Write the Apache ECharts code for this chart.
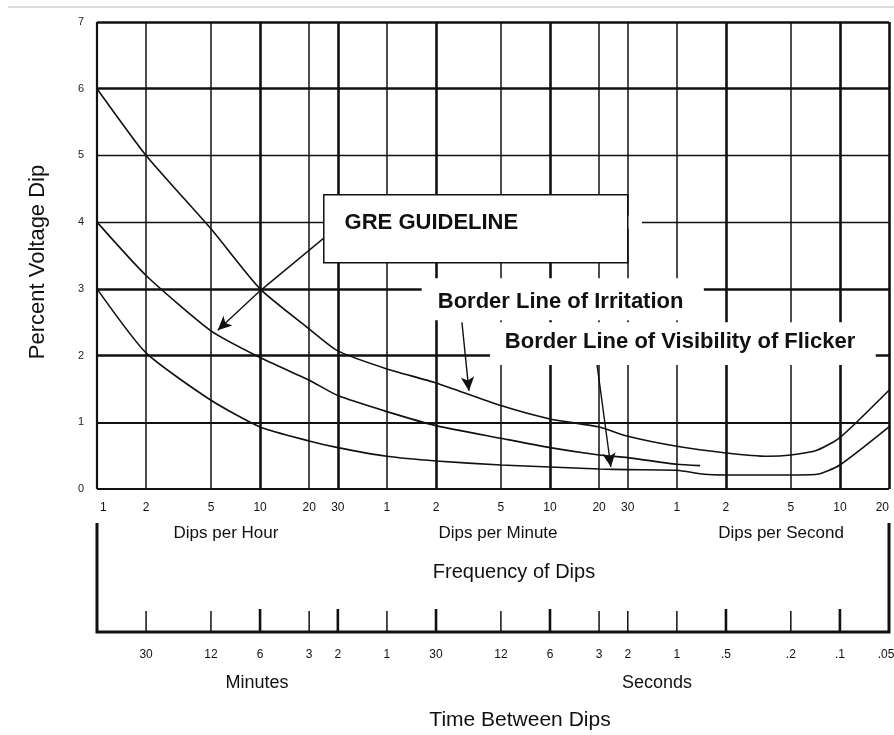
<!DOCTYPE html>
<html>
<head>
<meta charset="utf-8">
<script src="https://cdn.jsdelivr.net/npm/echarts@6/dist/echarts.min.js"></script>
<style>
html, body { margin: 0; padding: 0; background: #fff; }
#graph { width: 894px; height: 735px; }
</style>
</head>
<body>
<div id="graph"></div>
<script>
// frequency of dips, counted in dips per hour (1 per hour ... 20 per second)
var freqValues = [1, 2, 5, 10, 20, 30, 60, 120, 300, 600, 1200, 1800, 3600, 7200, 18000, 36000, 72000];
var freqLabels = ['1', '2', '5', '10', '20', '30', '1', '2', '5', '10', '20', '30', '1', '2', '5', '10', '20'];
var timeLabels = ['', '30', '12', '6', '3', '2', '1', '30', '12', '6', '3', '2', '1', '.5', '.2', '.1', '.05'];
var heavyFreq = [10, 30, 120, 600, 7200, 36000, 72000];
var pctTicks = [0, 1, 2, 3, 4, 5, 6, 7];
var heavyPct = [2, 3, 6, 7];

// Border Line of Irritation
var irritationFreq = [1, 2, 5, 10, 20, 30, 60, 120, 300, 600, 1200, 1800, 3600, 7200, 13000, 18000, 26000, 36000, 72000];
var irritationPct = [6.0, 5.0, 3.9, 3.0, 2.4, 2.07, 1.8, 1.59, 1.25, 1.05, 0.93, 0.79, 0.64, 0.54, 0.49, 0.51, 0.58, 0.77, 1.48];

// GRE guideline
var greFreq = [1, 2, 5, 10, 20, 30, 60, 120, 300, 600, 1200, 1800, 3600, 5000];
var grePct = [4.0, 3.2, 2.37, 1.97, 1.63, 1.4, 1.16, 0.95, 0.76, 0.62, 0.51, 0.47, 0.37, 0.35];

// Border Line of Visibility of Flicker
var visibilityFreq = [1, 2, 5, 10, 20, 30, 60, 120, 300, 600, 1200, 1800, 3600, 5300, 7200, 18000, 26000, 36000, 72000];
var visibilityPct = [3.0, 2.04, 1.33, 0.93, 0.72, 0.62, 0.49, 0.42, 0.36, 0.33, 0.30, 0.29, 0.28, 0.22, 0.21, 0.21, 0.22, 0.36, 0.93];

var FONT = '"Liberation Sans", Arial, sans-serif';

function zip(xs, ys) {
  return xs.map(function (x, i) { return [x, ys[i]]; });
}

var dom = document.getElementById('graph');
var myChart = echarts.init(dom, null, { renderer: 'canvas' });

var gridLines = [];
freqValues.forEach(function (v) {
  var w = heavyFreq.indexOf(v) >= 0 ? 2.6 : 1.5;
  if (v === 1) w = 2.2;
  gridLines.push({ xAxis: v, lineStyle: { width: w } });
});
pctTicks.forEach(function (v) {
  var w = heavyPct.indexOf(v) >= 0 ? 2.6 : 1.4;
  if (v === 1) w = 1.9;
  if (v === 0) w = 2.2;
  gridLines.push({ yAxis: v, lineStyle: { width: w } });
});

var curveStyle = { color: '#111', width: 1.6 };

option = {
  animation: false,
  backgroundColor: '#fff',
  grid: { left: 97, top: 22, width: 792, height: 467 },
  xAxis: {
    type: 'log',
    logBase: 10,
    min: 1,
    max: 72000,
    axisLine: { show: false },
    axisTick: { show: false },
    axisLabel: { show: false },
    splitLine: { show: false }
  },
  yAxis: {
    type: 'value',
    min: 0,
    max: 7,
    interval: 1,
    axisLine: { show: false },
    axisTick: { show: false },
    splitLine: { show: false },
    axisLabel: { margin: 13, fontSize: 11, color: '#222', fontFamily: FONT }
  },
  series: [
    {
      name: 'grid',
      type: 'line',
      data: [[1, 0]],
      symbol: 'none',
      lineStyle: { opacity: 0 },
      silent: true,
      z: 1,
      markLine: {
        silent: true,
        symbol: ['none', 'none'],
        label: { show: false },
        lineStyle: { color: '#111', type: 'solid' },
        data: gridLines
      }
    },
    {
      name: 'Border Line of Irritation',
      type: 'line',
      data: zip(irritationFreq, irritationPct),
      symbol: 'none',
      smooth: 0.2,
      lineStyle: curveStyle,
      z: 3
    },
    {
      name: 'GRE GUIDELINE',
      type: 'line',
      data: zip(greFreq, grePct),
      symbol: 'none',
      smooth: 0.2,
      lineStyle: curveStyle,
      z: 3
    },
    {
      name: 'Border Line of Visibility of Flicker',
      type: 'line',
      data: zip(visibilityFreq, visibilityPct),
      symbol: 'none',
      smooth: 0.2,
      lineStyle: curveStyle,
      z: 3
    },
    {
      name: 'arrows',
      type: 'line',
      data: [[1, 0]],
      symbol: 'none',
      lineStyle: { opacity: 0 },
      silent: true,
      z: 4,
      markLine: {
        silent: true,
        symbol: ['none', 'arrow'],
        symbolSize: [10, 14],
        label: { show: false },
        lineStyle: { color: '#111', type: 'solid', width: 1.4 },
        data: [
          [{ coord: [24.6, 3.76], symbol: 'none' }, { coord: [10, 2.97], symbol: 'none' }],
          [{ coord: [10, 2.97], symbol: 'none' }, { coord: [5.5, 2.38] }],
          [{ coord: [173, 2.5], symbol: 'none' }, { coord: [191, 1.47] }],
          [{ coord: [1146, 2.0], symbol: 'none' }, { coord: [1417, 0.33] }]
        ]
      }
    }
  ]
};

myChart.setOption(option);

function px(x, y) {
  return myChart.convertToPixel({ gridIndex: 0 }, [x, y]);
}

function txt(s, x, y, size, opts) {
  opts = opts || {};
  return {
    type: 'text',
    z: 120,
    rotation: opts.rotation || 0,
    x: x,
    y: y,
    style: {
      text: s,
      x: 0,
      y: 0,
      fill: '#111',
      font: (opts.bold ? 'bold ' : '') + size + 'px ' + FONT,
      textAlign: opts.align || 'center',
      textVerticalAlign: 'middle',
      align: opts.align || 'center',
      verticalAlign: 'middle'
    }
  };
}

function whiteBox(p1, p2, stroke) {
  return {
    type: 'rect',
    z: 110,
    shape: { x: p1[0], y: p1[1], width: p2[0] - p1[0], height: p2[1] - p1[1] },
    style: { fill: '#fff', stroke: stroke ? '#111' : null, lineWidth: stroke ? 1.5 : 0 }
  };
}

var g = [];
// faint rule at the very top of the page
g.push({ type: 'line', z: 100, shape: { x1: 8, y1: 7, x2: 894, y2: 7 }, style: { stroke: '#dcdcdc', lineWidth: 2 } });

// annotation boxes
var greA = px(24.6, 4.41), greB = px(1800, 3.39);
g.push(whiteBox(px(1800, 4.1), px(2200, 3.9), false));
g.push(whiteBox(greA, greB, true));
g.push(txt('GRE GUIDELINE', px(33, 3.99)[0], px(33, 3.99)[1], 22, { bold: true, align: 'left' }));

g.push(whiteBox(px(98, 3.16), px(5270, 2.53), false));
g.push(txt('Border Line of Irritation', px(123, 2.8)[0], px(123, 2.8)[1], 22, { bold: true, align: 'left' }));

g.push(whiteBox(px(257, 2.5), px(59700, 1.86), false));
g.push(txt('Border Line of Visibility of Flicker', px(317, 2.2)[0], px(317, 2.2)[1], 22, { bold: true, align: 'left' }));

// y axis name
g.push(txt('Percent Voltage Dip', 38, 262, 22, { rotation: Math.PI / 2 }));

// frequency labels under the plot
var xLeft = px(1, 0)[0], xRight = px(72000, 0)[0];
freqValues.forEach(function (v, i) {
  var x = px(v, 0)[0];
  var al = 'center';
  if (i === 0) { x += 3; al = 'left'; }
  if (i === freqValues.length - 1) { al = 'right'; }
  g.push(txt(freqLabels[i], x, 508, 12, { align: al }));
});
g.push(txt('Dips per Hour', 226, 533, 17));
g.push(txt('Dips per Minute', 498, 533, 17));
g.push(txt('Dips per Second', 781, 533, 17));
g.push(txt('Frequency of Dips', 514, 572, 20));

// bracket and time-between-dips scale
var bracketStyle = { stroke: '#111', lineWidth: 3 };
g.push({ type: 'polyline', z: 100, shape: { points: [[xLeft, 523], [xLeft, 632], [xRight, 632], [xRight, 523]] }, style: { stroke: '#111', lineWidth: 3, fill: null } });
freqValues.forEach(function (v, i) {
  if (i === 0 || i === freqValues.length - 1) return;
  var x = px(v, 0)[0];
  var heavy = heavyFreq.indexOf(v) >= 0;
  g.push({ type: 'line', z: 100, shape: { x1: x, y1: 632, x2: x, y2: heavy ? 609 : 611 }, style: { stroke: '#111', lineWidth: heavy ? 2.6 : 1.5 } });
});
freqValues.forEach(function (v, i) {
  if (!timeLabels[i]) return;
  var x = px(v, 0)[0];
  if (i === freqValues.length - 1) x -= 3;
  g.push(txt(timeLabels[i], x, 655, 12));
});
g.push(txt('Minutes', 257, 683, 18));
g.push(txt('Seconds', 657, 683, 18));
g.push(txt('Time Between Dips', 520, 720, 21));

myChart.setOption({ graphic: { elements: g } });
</script>
</body>
</html>
